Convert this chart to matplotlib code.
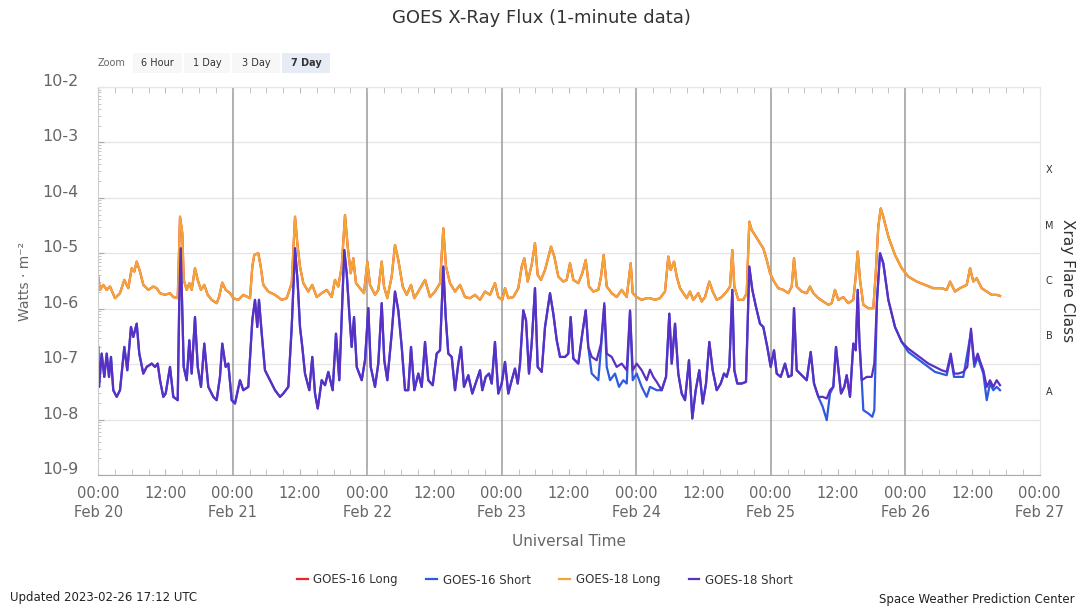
import numpy as np
import matplotlib.pyplot as plt
from matplotlib.lines import Line2D
from matplotlib.patches import Rectangle
from matplotlib.transforms import ScaledTranslation, blended_transform_factory

# time axis: hours since 2023-02-20 00:00 UTC, values: log10(flux / W m^-2)
long18_hours = [
    0.0, 0.32, 0.91, 1.52, 2.11, 3.00, 3.89, 4.66, 5.37, 5.98,
    6.44, 6.87, 7.46, 8.05, 8.94, 9.83, 10.44, 11.03, 11.92, 12.81,
    13.40, 14.19, 14.60, 15.01, 15.26, 15.79, 16.26, 16.68, 17.27, 17.76,
    18.34, 18.93, 19.54, 20.25, 21.14, 21.56, 22.14, 22.75, 23.52, 24.11,
    25.00, 25.89, 27.09, 27.50, 27.85, 28.57, 29.00, 29.46, 30.35, 31.55,
    32.74, 33.64, 34.53, 35.12, 35.53, 36.01, 36.60, 37.49, 38.20, 38.99,
    39.88, 40.77, 41.67, 42.25, 42.84, 43.45, 44.04, 44.52, 45.06, 45.52,
    46.00, 46.72, 47.43, 48.02, 48.50, 49.39, 49.98, 50.59, 51.00, 51.59,
    52.37, 52.96, 53.55, 54.34, 55.05, 55.82, 56.41, 57.12, 58.32, 59.21,
    60.10, 60.99, 61.58, 62.06, 62.78, 63.67, 64.56, 65.45, 66.34, 67.24,
    68.13, 69.02, 69.91, 70.80, 71.39, 72.11, 72.59, 73.18, 74.07, 74.96,
    75.57, 76.03, 76.64, 77.35, 77.94, 78.42, 79.01, 79.73, 80.80, 81.39,
    82.10, 82.99, 83.60, 84.19, 84.78, 85.67, 86.38, 86.99, 87.58, 88.35,
    89.24, 89.72, 90.20, 90.74, 91.63, 92.52, 93.41, 94.31, 95.02, 95.38,
    96.09, 96.98, 97.87, 98.46, 99.36, 100.25, 101.14, 101.73, 102.16, 102.75,
    103.23, 103.82, 104.41, 105.01, 105.60, 106.19, 107.08, 107.69, 108.28, 109.05,
    109.65, 110.37, 111.26, 112.15, 112.74, 113.15, 113.51, 114.22, 115.11, 115.72,
    116.18, 116.61, 117.38, 118.09, 118.68, 119.29, 119.88, 120.59, 121.36, 122.25,
    123.14, 123.75, 124.16, 124.64, 125.53, 126.43, 127.02, 127.61, 128.50, 129.39,
    130.28, 130.89, 131.47, 132.06, 132.96, 133.85, 134.74, 135.17, 135.53, 135.94,
    136.53, 137.42, 138.31, 138.74, 139.20, 139.63, 140.09, 140.99, 142.18, 143.38,
    144.55, 146.05, 147.53, 149.01, 150.51, 151.41, 152.00, 152.89, 153.78, 154.98,
    155.57, 156.15, 156.76, 157.65, 158.55, 159.44, 160.33, 160.92,
]
long18_log = [
    -5.42, -5.66, -5.57, -5.66, -5.60, -5.81, -5.72, -5.48, -5.63, -5.27,
    -5.33, -5.15, -5.33, -5.57, -5.66, -5.60, -5.63, -5.72, -5.75, -5.72,
    -5.79, -5.81, -4.34, -4.64, -5.48, -5.66, -5.54, -5.66, -5.27, -5.48,
    -5.66, -5.57, -5.75, -5.84, -5.90, -5.79, -5.53, -5.66, -5.72, -5.81,
    -5.84, -5.75, -5.81, -5.24, -5.03, -5.00, -5.24, -5.57, -5.69, -5.75,
    -5.84, -5.81, -5.54, -4.34, -4.82, -5.24, -5.54, -5.69, -5.57, -5.79,
    -5.72, -5.66, -5.79, -5.48, -5.60, -5.24, -4.31, -4.88, -5.36, -5.09,
    -5.54, -5.63, -5.72, -5.15, -5.57, -5.75, -5.66, -5.15, -5.60, -5.81,
    -5.42, -4.85, -5.12, -5.60, -5.75, -5.57, -5.81, -5.69, -5.48, -5.79,
    -5.69, -5.54, -4.55, -5.24, -5.54, -5.69, -5.57, -5.79, -5.81, -5.75,
    -5.84, -5.69, -5.75, -5.54, -5.79, -5.84, -5.63, -5.81, -5.79, -5.63,
    -5.24, -5.09, -5.51, -5.21, -4.82, -5.39, -5.48, -5.30, -4.88, -5.06,
    -5.42, -5.51, -5.48, -5.18, -5.48, -5.54, -5.36, -5.12, -5.60, -5.69,
    -5.66, -5.42, -5.03, -5.60, -5.72, -5.79, -5.66, -5.79, -5.18, -5.72,
    -5.79, -5.84, -5.81, -5.81, -5.84, -5.81, -5.69, -5.06, -5.30, -5.15,
    -5.42, -5.63, -5.72, -5.81, -5.69, -5.84, -5.72, -5.87, -5.79, -5.51,
    -5.69, -5.84, -5.79, -5.69, -5.60, -4.94, -5.60, -5.84, -5.84, -5.72,
    -4.43, -4.58, -4.70, -4.82, -4.91, -5.12, -5.36, -5.51, -5.63, -5.66,
    -5.72, -5.60, -5.09, -5.60, -5.69, -5.72, -5.60, -5.72, -5.81, -5.87,
    -5.93, -5.90, -5.66, -5.84, -5.79, -5.90, -5.84, -5.42, -4.97, -5.48,
    -5.93, -5.99, -5.99, -5.36, -4.52, -4.19, -4.34, -4.70, -5.03, -5.27,
    -5.42, -5.51, -5.57, -5.63, -5.63, -5.66, -5.51, -5.69, -5.63, -5.57,
    -5.27, -5.51, -5.45, -5.63, -5.69, -5.75, -5.75, -5.77,
]

short18_hours = [
    0.0, 0.14, 0.62, 1.09, 1.52, 1.93, 2.28, 2.69, 3.30, 3.89,
    4.66, 5.19, 5.85, 6.26, 6.87, 7.33, 8.05, 8.65, 9.55, 10.14,
    10.62, 11.03, 11.62, 12.04, 12.81, 13.40, 14.19, 14.47, 14.72, 14.95,
    15.26, 15.79, 16.26, 16.68, 17.27, 17.76, 18.34, 18.93, 19.65, 20.54,
    21.14, 21.73, 22.14, 22.75, 23.22, 23.82, 24.41, 25.30, 25.89, 26.78,
    27.50, 27.98, 28.39, 28.69, 29.18, 29.76, 30.66, 31.55, 32.44,
    33.03, 33.92, 34.53, 35.12, 35.60, 36.01, 36.42, 36.90, 37.67, 38.20,
    38.69, 39.17, 39.88, 40.47, 41.06, 41.84, 42.43, 43.02, 43.45, 43.91,
    44.34, 44.81, 45.23, 45.65, 46.13, 47.02, 47.61, 48.20, 48.63, 49.39,
    49.98, 50.59, 51.05, 51.59, 52.37, 52.96, 53.55, 54.16, 54.75, 55.33,
    55.82, 56.41, 57.12, 57.73, 58.32, 58.90, 59.69, 60.40, 60.99, 61.58,
    62.01, 62.47, 63.08, 63.67, 64.26, 64.74, 65.27, 66.04,
    66.75, 67.54, 68.13, 68.54, 69.15, 69.74, 70.22, 70.80, 71.39, 72.00,
    72.59, 73.18, 73.79, 74.37, 74.86, 75.27, 75.85, 76.34, 76.87, 77.35,
    77.94, 78.42, 79.14, 79.73, 80.62, 81.21, 81.82, 82.41, 83.30, 83.88,
    84.31, 84.78, 85.67, 86.38, 86.99, 87.45, 88.06, 88.95, 89.72, 90.31,
    90.74, 91.63, 92.52, 93.41, 94.31, 94.90, 95.38, 96.09, 96.98, 97.87,
    98.46, 99.05, 99.66, 100.55, 101.32, 101.91, 102.34, 102.93, 103.51, 104.12,
    104.71, 105.42, 106.01, 106.62, 107.26, 107.87, 108.46, 109.05, 109.65, 110.37,
    111.08, 111.67, 112.15, 112.62, 113.15, 113.51, 114.04, 114.83, 115.59, 116.18,
    116.72, 117.38, 118.09, 118.68, 119.39, 120.00, 120.59, 121.07, 121.79, 122.55,
    123.14, 123.75, 124.16, 124.64, 125.53, 126.43, 127.14, 127.73, 128.50, 129.28,
    130.00, 130.58, 131.17, 131.65, 132.24,
    132.55, 133.13, 133.56, 134.15, 134.74, 135.17, 135.53, 135.82, 136.24, 137.14,
    138.02, 138.49, 138.97, 139.51, 140.09, 140.99, 142.18, 143.38, 144.55, 145.75,
    146.94, 148.13, 149.32, 150.51, 151.41, 152.12, 152.71, 153.48, 154.37, 155.08,
    155.74, 156.33, 156.94, 157.40, 157.94, 158.55, 159.13, 159.72, 160.33, 160.92,
]
short18_log = [
    -6.69, -7.41, -6.81, -7.23, -6.81, -7.23, -6.87, -7.47, -7.59, -7.47,
    -6.69, -7.11, -6.33, -6.51, -6.27, -6.81, -7.17, -7.05, -6.99, -7.05,
    -6.99, -7.29, -7.59, -7.53, -7.05, -7.59, -7.65, -5.84, -4.91, -5.84,
    -7.05, -7.29, -6.57, -7.17, -6.15, -7.05, -7.41, -6.63, -7.41, -7.59,
    -7.65, -7.23, -6.63, -7.05, -6.99, -7.65, -7.71, -7.29, -7.47, -7.41,
    -6.21, -5.84, -6.33, -5.84, -6.45, -7.11, -7.29, -7.47, -7.59,
    -7.53, -7.41, -6.33, -4.91, -5.54, -6.33, -6.69, -7.17, -7.47, -6.87,
    -7.53, -7.80, -7.29, -7.38, -7.14, -7.47, -6.45, -7.29, -6.15, -4.94,
    -5.36, -6.09, -6.69, -6.15, -7.05, -7.29, -6.93, -5.99, -7.05, -7.41,
    -6.99, -5.90, -6.93, -7.29, -6.45, -5.69, -6.03, -6.69, -7.47, -7.47,
    -6.69, -7.47, -7.17, -7.41, -6.60, -7.29, -7.38, -6.81, -6.75, -5.24,
    -6.15, -6.81, -6.87, -7.47, -6.99, -6.69, -7.41, -7.20,
    -7.53, -7.29, -7.11, -7.47, -7.23, -7.17, -7.35, -6.60, -7.53, -7.35,
    -6.96, -7.53, -7.29, -7.08, -7.35, -6.99, -6.03, -6.21, -7.17, -6.63,
    -5.63, -7.05, -7.14, -6.33, -5.72, -6.09, -6.57, -6.87, -6.87, -6.81,
    -6.15, -6.90, -6.99, -6.45, -6.03, -6.69, -6.87, -6.93, -6.63, -5.90,
    -6.81, -6.87, -7.05, -6.99, -7.11, -6.03, -7.11, -6.99, -7.11, -7.29,
    -7.10, -7.23, -7.32, -7.47, -7.23, -6.09, -6.99, -6.27, -7.17, -7.53,
    -7.65, -6.93, -7.98, -7.47, -7.11, -7.71, -7.35, -6.60, -7.11, -7.47,
    -7.35, -7.17, -7.23, -7.05, -5.66, -7.11, -7.35, -7.35, -7.32, -5.24,
    -5.66, -5.97, -6.27, -6.33, -6.69, -7.05, -6.75, -7.17, -7.23, -6.99,
    -7.23, -7.20, -5.99, -7.11, -7.20, -7.29, -6.78, -7.35, -7.59, -7.59,
    -7.62, -7.47, -7.41, -6.69, -7.23,
    -7.53, -7.41, -7.20, -7.59, -6.63, -6.75, -5.66, -6.57, -7.29, -7.23,
    -7.23, -6.99, -5.84, -5.00, -5.18, -5.84, -6.33, -6.60, -6.72, -6.81,
    -6.90, -6.99, -7.05, -7.11, -7.14, -6.81, -7.17, -7.17, -7.14, -7.05,
    -6.36, -6.99, -6.81, -6.96, -7.11, -7.41, -7.29, -7.41, -7.29, -7.38,
]

# stretches where the GOES-16 short channel runs below GOES-18
short16_a_hours = [88.06, 89.24, 89.72, 90.31, 90.74, 91.33, 92.22, 92.93, 93.70,
                   94.31, 94.90, 95.38, 96.09, 96.98, 97.87, 98.46, 99.66]
short16_a_log = [-7.17, -7.29, -6.70, -5.95, -7.05, -7.29, -7.17, -7.41, -7.29,
                 -7.35, -6.05, -7.29, -7.17, -7.41, -7.59, -7.41, -7.47]
short16_b_hours = [129.28, 130.00, 130.58]
short16_b_log = [-7.77, -8.01, -7.53]
short16_c_hours = [136.53, 137.42, 138.13, 138.49]
short16_c_log = [-7.83, -7.89, -7.95, -7.83]
short16_d_hours = [144.55, 146.94, 149.32, 151.41, 152.12, 152.71, 154.37, 155.74,
                   156.33, 156.94, 157.94, 158.55, 159.13, 159.72, 160.33, 160.92]
short16_d_log = [-6.78, -6.96, -7.14, -7.20, -6.87, -7.23, -7.23, -6.42,
                 -7.05, -6.87, -7.17, -7.65, -7.35, -7.47, -7.41, -7.47]

tick_hours = list(range(0, 169, 12))
tick_labels = ["00:00\nFeb 20", "12:00", "00:00\nFeb 21", "12:00", "00:00\nFeb 22",
               "12:00", "00:00\nFeb 23", "12:00", "00:00\nFeb 24", "12:00",
               "00:00\nFeb 25", "12:00", "00:00\nFeb 26", "12:00", "00:00\nFeb 27"]
decades = [-9, -8, -7, -6, -5, -4, -3, -2]
decade_labels = ["10-9", "10-8", "10-7", "10-6", "10-5", "10-4", "10-3", "10-2"]
flare_classes = ["A", "B", "C", "M", "X"]
flare_centers = [-7.5, -6.5, -5.5, -4.5, -3.5]

series_names = ["GOES-16 Long", "GOES-16 Short", "GOES-18 Long", "GOES-18 Short"]
series_colors = ["#e8262a", "#2f5ae0", "#f3a535", "#5a2fc4"]

# build the GOES-16 short trace: GOES-18 values except where it splits off
t16 = np.array(short18_hours)
v16 = np.array(short18_log)
for ph, pv in [(short16_a_hours, short16_a_log), (short16_b_hours, short16_b_log),
               (short16_c_hours, short16_c_log), (short16_d_hours, short16_d_log)]:
    keep = (t16 < ph[0]) | (t16 > ph[-1])
    t16 = np.concatenate([t16[keep], ph])
    v16 = np.concatenate([v16[keep], pv])
    order = np.argsort(t16)
    t16, v16 = t16[order], v16[order]

W, H = 1081, 610
fig = plt.figure(figsize=(W / 100, H / 100), dpi=100)
plt.rcParams['font.family'] = ['DejaVu Sans']
ax = fig.add_axes([98.2 / W, 1 - 475 / H, 941.5 / W, 388 / H])

traces = [
    (long18_hours, long18_log),
    (t16, v16),
    (long18_hours, long18_log),
    (short18_hours, short18_log),
]
for (t, v), col in zip(traces, series_colors):
    ax.plot(t, 10 ** np.array(v), color=col, lw=1.6, solid_joinstyle='round')

ax.set_yscale('log')
ax.set_ylim(1e-9, 1e-2)
ax.set_xlim(0, 168)

# horizontal decade grid and daily vertical lines
for d in decades:
    ax.axhline(10.0 ** d, color='#e6e6e6', lw=1, zorder=0)
for h in range(24, 168, 24):
    ax.axvline(h, color='#9a9a9a', lw=1.1, zorder=0.5)

for s in ['top', 'right']:
    ax.spines[s].set_color('#e6e6e6')
ax.spines['left'].set_color('#cccccc')
ax.spines['bottom'].set_color('#aaaaaa')

ax.set_yticks([10.0 ** d for d in decades])
ax.set_yticklabels(decade_labels, fontsize=11.5, color='#666666')
ax.yaxis.set_minor_locator(plt.matplotlib.ticker.LogLocator(base=10, subs=np.arange(2, 10)))
ax.yaxis.set_minor_formatter(plt.NullFormatter())
ax.tick_params(axis='y', which='major', length=4, direction='in', color='#aaaaaa', pad=14)
ax.tick_params(axis='y', which='minor', length=2.5, direction='in', color='#bbbbbb')
shift = ScaledTranslation(0, 7 / 100, fig.dpi_scale_trans)
for lbl in ax.get_yticklabels():
    lbl.set_transform(lbl.get_transform() + shift)

ax.set_xticks(tick_hours)
ax.set_xticklabels(tick_labels, fontsize=10.5, color='#666666', linespacing=1.3, va='top')
ax.set_xticks(np.arange(0, 169, 3), minor=True)
ax.tick_params(axis='x', which='both', top=True, direction='in', length=4,
               color='#bbbbbb', pad=8)

# flare class letters on the right
tr = blended_transform_factory(ax.transAxes, ax.transData)
for c, lvl in zip(flare_classes, flare_centers):
    ax.text(1.0099, 10 ** lvl, c, transform=tr, fontsize=7, color='#333333',
            ha='center', va='center')
ax.text(1.029, 0.5, "Xray Flare Class", transform=ax.transAxes, rotation=270,
        fontsize=11, color='#333333', ha='center', va='center')

fig.text(25 / W, 1 - 281 / H, "Watts · m⁻²", rotation=90, fontsize=10,
         color='#666666', ha='center', va='center')
fig.text(569 / W, 1 - 542 / H, "Universal Time", fontsize=11, color='#666666',
         ha='center', va='center')
fig.text(541 / W, 1 - 18 / H, "GOES X-Ray Flux (1-minute data)", fontsize=13,
         color='#333333', ha='center', va='center')

# range selector buttons
fig.text(98 / W, 1 - 63 / H, "Zoom", fontsize=7, color='#666666', va='center')
buttons = [("6 Hour", 133, 182), ("1 Day", 184, 230), ("3 Day", 232, 280), ("7 Day", 282, 330)]
for name, x0, x1 in buttons:
    sel = name == "7 Day"
    fig.patches.append(Rectangle((x0 / W, 1 - 73 / H), (x1 - x0) / W, 20 / H,
                                 transform=fig.transFigure,
                                 facecolor='#e6ebf5' if sel else '#f7f7f7',
                                 edgecolor='none', zorder=0))
    fig.text((x0 + x1) / 2 / W, 1 - 63 / H, name, fontsize=7, color='#333333',
             ha='center', va='center', fontweight='bold' if sel else 'normal')

handles = [Line2D([], [], color=c, lw=1.6) for c in series_colors]
fig.legend(handles, series_names, loc='center', bbox_to_anchor=(545 / W, 1 - 580 / H),
           ncol=4, frameon=False, fontsize=8.5, handlelength=0.9, handletextpad=0.5,
           columnspacing=2.4, labelcolor='#333333')

fig.text(10 / W, 1 - 597 / H, "Updated 2023-02-26 17:12 UTC", fontsize=8.5,
         color='#222222', va='center')
fig.text(1075 / W, 1 - 600 / H, "Space Weather Prediction Center", fontsize=8.5,
         color='#222222', va='center', ha='right')

fig.savefig("out.png", dpi=100)
